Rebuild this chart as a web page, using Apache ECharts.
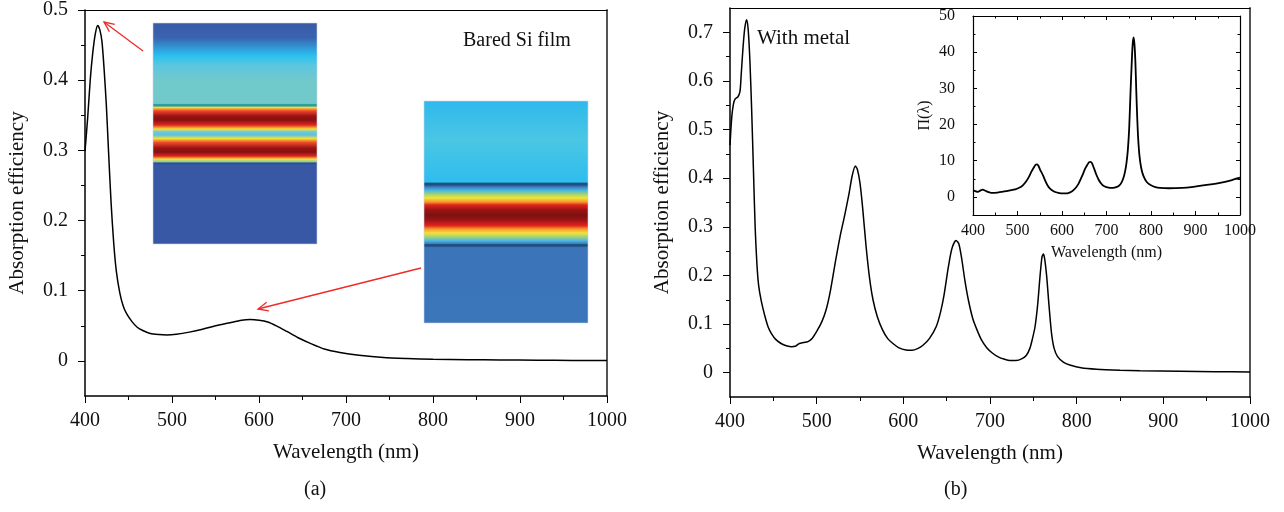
<!DOCTYPE html>
<html>
<head>
<meta charset="utf-8">
<script src="https://cdn.jsdelivr.net/npm/echarts@6/dist/echarts.min.js"></script>
<style>
  html, body { margin: 0; padding: 0; background: #fff; }
  #chart { width: 1284px; height: 512px; }
</style>
</head>
<body>
<div id="chart"></div>
<script>
// (a) bare Si film
const wlA = [400, 403, 406, 409, 412, 414.6, 417, 419.5, 422, 424.5, 427, 430, 433, 436, 440, 444, 448, 454, 460, 467, 475, 485, 494, 505, 520, 535, 550, 565, 580, 590, 600, 610, 620, 632, 645, 659, 675, 693, 715, 743, 770, 800, 840, 877, 920, 960, 1000];
const absA = [0.299, 0.345, 0.400, 0.440, 0.467, 0.478, 0.472, 0.455, 0.415, 0.365, 0.300, 0.225, 0.168, 0.128, 0.097, 0.078, 0.067, 0.056, 0.048, 0.043, 0.039, 0.0375, 0.037, 0.038, 0.041, 0.045, 0.050, 0.054, 0.058, 0.059, 0.058, 0.0555, 0.050, 0.042, 0.033, 0.025, 0.017, 0.012, 0.008, 0.0047, 0.0033, 0.0023, 0.0018, 0.0014, 0.001, 0.0007, 0.0005];

// (b) with metal
const wlB = [400, 402, 404, 406, 409, 411.5, 413, 415, 417, 419.2, 421, 423, 425, 427, 429, 431, 433, 436, 440, 444, 448, 453, 460, 466, 471, 476, 480, 485, 490, 495, 501, 506, 511, 516, 522, 527, 532, 537, 541, 544.6, 547, 550, 553, 557, 561, 565, 570, 576, 582, 588, 595, 603, 610, 617, 623, 630, 638, 643, 647, 652, 656, 660.8, 664, 667.3, 671, 675, 680, 685, 690, 696, 703, 710, 716, 723, 730, 737, 742, 746, 749, 752, 755, 757.7, 760, 761.5, 763, 765.4, 768, 771, 774, 778, 785, 792, 805, 823, 850, 873, 920, 960, 1000];
const absB = [0.468, 0.525, 0.553, 0.563, 0.567, 0.578, 0.615, 0.668, 0.708, 0.726, 0.705, 0.640, 0.540, 0.420, 0.300, 0.225, 0.180, 0.148, 0.118, 0.094, 0.080, 0.068, 0.059, 0.055, 0.0535, 0.055, 0.060, 0.062, 0.064, 0.071, 0.088, 0.105, 0.130, 0.170, 0.232, 0.280, 0.321, 0.365, 0.405, 0.425, 0.418, 0.390, 0.340, 0.260, 0.195, 0.150, 0.115, 0.088, 0.070, 0.060, 0.051, 0.0465, 0.046, 0.050, 0.057, 0.070, 0.095, 0.125, 0.160, 0.218, 0.255, 0.272, 0.265, 0.235, 0.190, 0.150, 0.112, 0.088, 0.068, 0.052, 0.040, 0.032, 0.028, 0.025, 0.025, 0.029, 0.036, 0.050, 0.070, 0.095, 0.140, 0.198, 0.238, 0.244, 0.235, 0.198, 0.140, 0.081, 0.050, 0.033, 0.021, 0.0158, 0.010, 0.007, 0.005, 0.004, 0.003, 0.002, 0.0015];

// inset: enhancement factor
const wlIn = [400, 405, 411, 417, 422, 428, 435, 441, 455, 470, 483, 495, 505, 512, 520, 526, 531, 537, 541, 544, 547, 551, 557, 563, 568, 573, 582, 592, 602, 612, 622, 630, 637, 643, 648, 652, 657, 661, 664, 667, 671, 677, 683, 688, 693, 700, 708, 715, 722, 728, 733, 738, 742, 745, 748, 751, 754, 757, 759, 760.9, 763, 765, 767, 769, 771, 774, 778, 783, 790, 800, 810, 820, 840, 870, 895, 925, 955, 980, 1000];
const piIn = [1.8, 1.6, 1.4, 1.8, 2.0, 1.7, 1.3, 1.1, 1.2, 1.5, 1.8, 2.1, 2.6, 3.2, 4.4, 5.6, 6.9, 8.2, 8.9, 9.0, 8.6, 7.5, 6.0, 4.3, 3.1, 2.3, 1.5, 1.1, 0.95, 1.0, 1.5, 2.4, 3.6, 5.2, 6.6, 7.8, 8.9, 9.6, 9.7, 9.4, 8.2, 6.2, 4.6, 3.7, 3.1, 2.7, 2.5, 2.5, 2.7, 3.1, 3.8, 5.2, 7.2, 9.5, 13, 19, 29, 38, 42.5, 44.1, 42, 37, 29, 22, 16.5, 11.5, 8, 5.8, 4.2, 3.2, 2.7, 2.5, 2.4, 2.5, 2.8, 3.3, 3.9, 4.6, 5.3];

// tick labels
const yTicksA = [0, 0.1, 0.2, 0.3, 0.4, 0.5];
const yMinorA = [0.05, 0.15, 0.25, 0.35, 0.45];
const yTicksB = [0, 0.1, 0.2, 0.3, 0.4, 0.5, 0.6, 0.7];
const yMinorB = [0.05, 0.15, 0.25, 0.35, 0.45, 0.55, 0.65];
const yTicksIn = [0, 10, 20, 30, 40, 50];
const yMinorIn = [5, 15, 25, 35, 45];

const FONT = "'Liberation Serif', 'DejaVu Serif', serif";
const fmt = v => (v === 0 ? "0" : String(+v.toFixed(2)));

function pairs(xs, ys) {
  return xs.map((x, i) => [x, ys[i]]);
}

function bottomX(grid, small) {
  return {
    type: "value", gridIndex: grid, min: 400, max: 1000, interval: 100,
    name: "Wavelength (nm)", nameLocation: "middle",
    nameGap: small ? 30 : 46,
    nameTextStyle: { fontFamily: FONT, fontSize: small ? 16 : 21, color: "#111" },
    axisLine: { onZero: false, lineStyle: { color: "#000", width: small ? 1.2 : 1.5 } },
    axisTick: { inside: !!small, length: small ? 4 : 7, lineStyle: { color: "#000" } },
    minorTick: { show: true, splitNumber: 2, length: small ? 2.5 : 4, lineStyle: { color: "#000" } },
    axisLabel: { formatter: v => String(v), fontFamily: FONT, fontSize: small ? 16 : 20, color: "#111", margin: small ? 8 : 15 },
    splitLine: { show: false },
  };
}

function topX(grid, small) {
  return {
    type: "value", gridIndex: grid, position: "top", min: 400, max: 1000, interval: 100,
    axisLine: { onZero: false, lineStyle: { color: "#000", width: 1.2 } },
    axisTick: { show: !!small, inside: true, length: 4, lineStyle: { color: "#000" } },
    minorTick: { show: !!small, splitNumber: 2, length: 2.5, lineStyle: { color: "#000" } },
    axisLabel: { show: false },
    splitLine: { show: false },
  };
}

function leftY(grid, min, max, ticks, name, small) {
  return {
    type: "value", gridIndex: grid, min: min, max: max,
    name: name, nameLocation: "middle",
    nameGap: small ? 40 : 57,
    nameTextStyle: { fontFamily: FONT, fontSize: small ? 16 : 21, color: "#111" },
    axisLine: { onZero: false, lineStyle: { color: "#000", width: small ? 1.2 : 1.5 } },
    axisTick: { customValues: ticks, inside: !!small, length: small ? 4 : 7, lineStyle: { color: "#000" } },
    axisLabel: { customValues: ticks, formatter: fmt, fontFamily: FONT, fontSize: small ? 16 : 20, color: "#111", margin: small ? 18 : 17 },
    splitLine: { show: false },
  };
}

function minorY(grid, min, max, ticks, small, pos) {
  return {
    type: "value", gridIndex: grid, min: min, max: max, position: pos || "left",
    axisLine: { show: false },
    axisTick: { customValues: ticks, inside: !!small, length: small ? 2.5 : 4, lineStyle: { color: "#000" } },
    axisLabel: { show: false },
    splitLine: { show: false },
  };
}

function rightY(grid, min, max, ticks, small) {
  return {
    type: "value", gridIndex: grid, position: "right", min: min, max: max,
    axisLine: { onZero: false, lineStyle: { color: small ? "#000" : "#555", width: small ? 1.2 : 2 } },
    axisTick: { show: !!small, customValues: ticks, inside: true, length: 4, lineStyle: { color: "#000" } },
    axisLabel: { show: false },
    splitLine: { show: false },
  };
}

// red arrow: line + open head
function arrow(tail, tip) {
  const ang = Math.atan2(tail[1] - tip[1], tail[0] - tip[0]);
  const len = 11, spread = 0.42;
  const p1 = [tip[0] + len * Math.cos(ang + spread), tip[1] + len * Math.sin(ang + spread)];
  const p2 = [tip[0] + len * Math.cos(ang - spread), tip[1] + len * Math.sin(ang - spread)];
  const style = { stroke: "#ee2a2a", lineWidth: 1.3, fill: null };
  return [
    { type: "polyline", z: 10, shape: { points: [tail, tip] }, style: style },
    { type: "polyline", z: 10, shape: { points: [p1, tip, p2] }, style: style },
  ];
}

// simulated field maps (images in the original figure)
function fieldMap(x, y, w, h, stops) {
  return {
    type: "rect", z: 5,
    shape: { x: x, y: y, width: w, height: h },
    style: {
      fill: new echarts.graphic.LinearGradient(0, 0, 0, 1,
        stops.map(s => ({ offset: (s[0] - y) / h, color: s[1] }))),
      stroke: "#c9d3e6", lineWidth: 0.6,
    },
  };
}

const map1 = [
  [23, "#3a5ba6"], [38, "#3a63af"], [50, "#2fa3de"], [57, "#2ec3ef"], [66, "#5dc7de"],
  [80, "#70c9cc"], [103.5, "#72c9ca"], [104.5, "#2f9c9e"], [106, "#2f9c9e"], [107.5, "#f2e03a"],
  [111, "#f0452a"], [116, "#9a1414"], [120, "#861010"], [125, "#e02520"], [129, "#f3df3a"],
  [132, "#6fc6d8"], [135, "#5cc2e2"], [138.5, "#f3e03a"], [142.5, "#ef4a28"], [148, "#9a1414"],
  [152, "#861010"], [156, "#e02520"], [159, "#f2e03a"], [161.5, "#8fd1a0"], [163, "#2a4d96"],
  [165, "#3858a6"], [244, "#3858a6"],
];
const map2 = [
  [101, "#2eb9ec"], [140, "#4bc6e4"], [182, "#2ebdee"], [183.5, "#1f4f7f"], [185, "#1f4f7f"],
  [187, "#3a7fc2"], [190.5, "#4ab8e0"], [194.5, "#a8d46a"], [198, "#f2e43a"], [202, "#f49a2a"],
  [205, "#e0231e"], [210, "#9a1414"], [215, "#7f1010"], [220, "#9a1414"], [225.5, "#e3231f"],
  [229, "#f59a2a"], [233, "#f3e03c"], [237, "#9fd27a"], [240.5, "#50b8e0"], [243.5, "#3a7fc2"],
  [244.5, "#1e4f7e"], [246, "#1e4f7e"], [247.5, "#3b74b8"], [323, "#3b76ba"],
];

const chart = echarts.init(document.getElementById("chart"), null, { renderer: "canvas" });

const option = {
  animation: false,
  backgroundColor: "#fff",
  textStyle: { fontFamily: FONT },
  grid: [
    { left: 85, top: 8, width: 522, height: 388 },
    { left: 730, top: 8, width: 520, height: 389 },
    { left: 973, top: 16, width: 267, height: 199 },
  ],
  xAxis: [
    bottomX(0), topX(0),
    bottomX(1), topX(1),
    bottomX(2, true), topX(2, true),
  ],
  yAxis: [
    leftY(0, -0.05, 0.5, yTicksA, "Absorption efficiency"),
    minorY(0, -0.05, 0.5, yMinorA),
    rightY(0, -0.05, 0.5, yTicksA),
    leftY(1, -0.05, 0.75, yTicksB, "Absorption efficiency"),
    minorY(1, -0.05, 0.75, yMinorB),
    rightY(1, -0.05, 0.75, yTicksB),
    leftY(2, -5, 50, yTicksIn, "\u03A0(\u03BB)", true),
    minorY(2, -5, 50, yMinorIn, true),
    rightY(2, -5, 50, yTicksIn, true),
    minorY(2, -5, 50, yMinorIn, true, "right"),
  ],
  series: [
    {
      type: "line", xAxisIndex: 0, yAxisIndex: 0, data: pairs(wlA, absA),
      showSymbol: false, smooth: 0.25, lineStyle: { color: "#000", width: 1.5 },
    },
    {
      type: "line", xAxisIndex: 2, yAxisIndex: 3, data: pairs(wlB, absB),
      showSymbol: false, smooth: 0.25, lineStyle: { color: "#000", width: 1.5 },
    },
    {
      type: "line", xAxisIndex: 4, yAxisIndex: 6, data: pairs(wlIn, piIn),
      showSymbol: false, smooth: 0.25, lineStyle: { color: "#000", width: 1.8 },
    },
  ],
  graphic: [
    fieldMap(153, 23, 164, 221, map1),
    fieldMap(424, 101, 164, 222, map2),
    ...arrow([143, 51], [104, 22]),
    ...arrow([421, 268], [258, 309]),
    {
      type: "text", left: 463, top: 31,
      style: { text: "Bared Si film", font: "20px " + FONT, fill: "#111" },
    },
    {
      type: "text", left: 757, top: 28,
      style: { text: "With metal", font: "21px " + FONT, fill: "#111" },
    },
    {
      type: "text", left: 304, top: 480,
      style: { text: "(a)", font: "20px " + FONT, fill: "#111" },
    },
    {
      type: "text", left: 944, top: 480,
      style: { text: "(b)", font: "20px " + FONT, fill: "#111" },
    },
  ],
};

chart.setOption(option);
window.addEventListener("resize", chart.resize);
</script>
</body>
</html>
